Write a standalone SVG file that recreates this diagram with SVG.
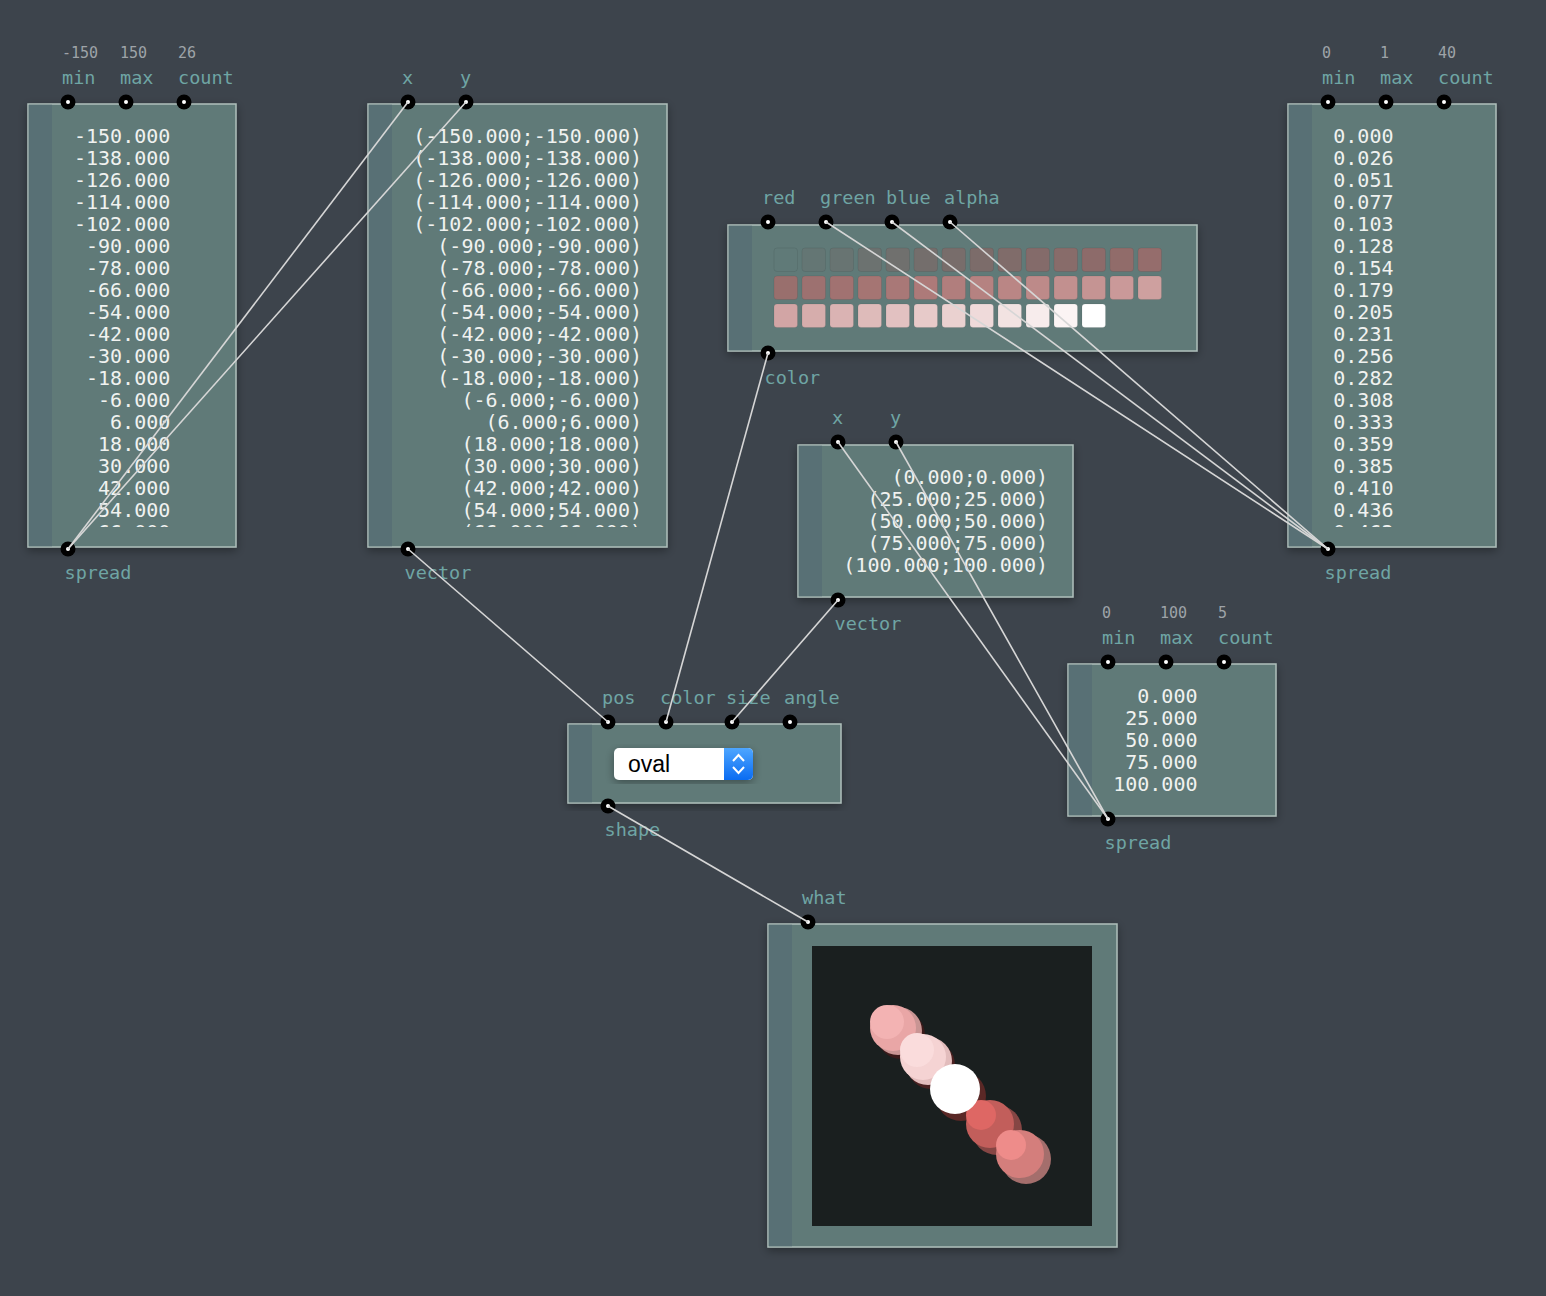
<svg xmlns="http://www.w3.org/2000/svg" width="1546" height="1296" viewBox="0 0 1546 1296">
<defs>
<style>
.body{fill:#617a78;stroke:#aebfba;stroke-width:1.5}
.strip{fill:#587075}
.pin{fill:#000}
.dot{fill:#fff}
.lbl{font-family:"DejaVu Sans Mono",monospace;font-size:18.5px;fill:#6fa5a4}
.num{font-family:"DejaVu Sans Mono",monospace;font-size:15px;fill:#9ea3a8}
.val{font-family:"DejaVu Sans Mono",monospace;font-size:20px;fill:#f0f2f0;text-anchor:end}
.wire{stroke:#d6d6d6;stroke-width:1.6;fill:none}
.sw{stroke:#000;stroke-opacity:0.07;stroke-width:1}
</style>
<filter id="sh" x="-10%" y="-10%" width="120%" height="120%">
<feDropShadow dx="0" dy="3" stdDeviation="5" flood-color="#000" flood-opacity="0.35"/>
</filter>
<linearGradient id="blue" x1="0" y1="0" x2="0" y2="1">
<stop offset="0" stop-color="#4ea6ff"/>
<stop offset="1" stop-color="#0a6cf2"/>
</linearGradient>
<clipPath id="c1"><rect x="52" y="106" width="183" height="421"/></clipPath>
<clipPath id="c2"><rect x="392" y="106" width="274" height="421"/></clipPath>
<clipPath id="c4"><rect x="1312" y="106" width="183" height="421"/></clipPath>
</defs>
<rect width="1546" height="1296" fill="#3d444c"/>

<g id="spread1">
<rect class="body" x="28" y="104" width="208" height="443" filter="url(#sh)"/>
<rect class="strip" x="28.75" y="104.75" width="23.25" height="441.5"/>
<text class="num" x="62" y="58">-150</text>
<text class="num" x="120" y="58">150</text>
<text class="num" x="178" y="58">26</text>
<text class="lbl" x="62" y="84">min</text>
<text class="lbl" x="120" y="84">max</text>
<text class="lbl" x="178" y="84">count</text>
<text class="lbl" x="64.5" y="579">spread</text>
<text class="val" clip-path="url(#c1)"><tspan x="170.3" y="143">-150.000</tspan><tspan x="170.3" y="165">-138.000</tspan><tspan x="170.3" y="187">-126.000</tspan><tspan x="170.3" y="209">-114.000</tspan><tspan x="170.3" y="231">-102.000</tspan><tspan x="170.3" y="253">-90.000</tspan><tspan x="170.3" y="275">-78.000</tspan><tspan x="170.3" y="297">-66.000</tspan><tspan x="170.3" y="319">-54.000</tspan><tspan x="170.3" y="341">-42.000</tspan><tspan x="170.3" y="363">-30.000</tspan><tspan x="170.3" y="385">-18.000</tspan><tspan x="170.3" y="407">-6.000</tspan><tspan x="170.3" y="429">6.000</tspan><tspan x="170.3" y="451">18.000</tspan><tspan x="170.3" y="473">30.000</tspan><tspan x="170.3" y="495">42.000</tspan><tspan x="170.3" y="517">54.000</tspan><tspan x="170.3" y="539">66.000</tspan></text>
<circle class="pin" cx="68" cy="102" r="7.5"/><circle class="dot" cx="68" cy="102" r="2"/>
<circle class="pin" cx="126" cy="102" r="7.5"/><circle class="dot" cx="126" cy="102" r="2"/>
<circle class="pin" cx="184" cy="102" r="7.5"/><circle class="dot" cx="184" cy="102" r="2"/>
<circle class="pin" cx="68" cy="549" r="7.5"/><circle class="dot" cx="68" cy="549" r="2"/>
</g>

<g id="vector1">
<rect class="body" x="368" y="104" width="299" height="443" filter="url(#sh)"/>
<rect class="strip" x="368.75" y="104.75" width="23.25" height="441.5"/>
<text class="lbl" x="402" y="84">x</text>
<text class="lbl" x="460" y="84">y</text>
<text class="lbl" x="404.5" y="579">vector</text>
<text class="val" clip-path="url(#c2)"><tspan x="642" y="143">(-150.000;-150.000)</tspan><tspan x="642" y="165">(-138.000;-138.000)</tspan><tspan x="642" y="187">(-126.000;-126.000)</tspan><tspan x="642" y="209">(-114.000;-114.000)</tspan><tspan x="642" y="231">(-102.000;-102.000)</tspan><tspan x="642" y="253">(-90.000;-90.000)</tspan><tspan x="642" y="275">(-78.000;-78.000)</tspan><tspan x="642" y="297">(-66.000;-66.000)</tspan><tspan x="642" y="319">(-54.000;-54.000)</tspan><tspan x="642" y="341">(-42.000;-42.000)</tspan><tspan x="642" y="363">(-30.000;-30.000)</tspan><tspan x="642" y="385">(-18.000;-18.000)</tspan><tspan x="642" y="407">(-6.000;-6.000)</tspan><tspan x="642" y="429">(6.000;6.000)</tspan><tspan x="642" y="451">(18.000;18.000)</tspan><tspan x="642" y="473">(30.000;30.000)</tspan><tspan x="642" y="495">(42.000;42.000)</tspan><tspan x="642" y="517">(54.000;54.000)</tspan><tspan x="642" y="539">(66.000;66.000)</tspan></text>
<circle class="pin" cx="408" cy="102" r="7.5"/><circle class="dot" cx="408" cy="102" r="2"/>
<circle class="pin" cx="466" cy="102" r="7.5"/><circle class="dot" cx="466" cy="102" r="2"/>
<circle class="pin" cx="408" cy="549" r="7.5"/><circle class="dot" cx="408" cy="549" r="2"/>
</g>

<g id="color">
<rect class="body" x="728" y="225" width="469" height="126" filter="url(#sh)"/>
<rect class="strip" x="728.75" y="225.75" width="23.25" height="124.5"/>
<text class="lbl" x="762" y="204">red</text>
<text class="lbl" x="820" y="204">green</text>
<text class="lbl" x="886" y="204">blue</text>
<text class="lbl" x="944" y="204">alpha</text>
<text class="lbl" x="764.5" y="384">color</text>
<g class="sw">
<rect x="774" y="248" width="23.5" height="23.5" rx="3" fill="rgb(255,0,0)" fill-opacity="0"/>
<rect x="802" y="248" width="23.5" height="23.5" rx="3" fill="rgb(255,7,7)" fill-opacity="0.026"/>
<rect x="830" y="248" width="23.5" height="23.5" rx="3" fill="rgb(255,13,13)" fill-opacity="0.051"/>
<rect x="858" y="248" width="23.5" height="23.5" rx="3" fill="rgb(255,20,20)" fill-opacity="0.077"/>
<rect x="886" y="248" width="23.5" height="23.5" rx="3" fill="rgb(255,26,26)" fill-opacity="0.103"/>
<rect x="914" y="248" width="23.5" height="23.5" rx="3" fill="rgb(255,33,33)" fill-opacity="0.128"/>
<rect x="942" y="248" width="23.5" height="23.5" rx="3" fill="rgb(255,39,39)" fill-opacity="0.154"/>
<rect x="970" y="248" width="23.5" height="23.5" rx="3" fill="rgb(255,46,46)" fill-opacity="0.179"/>
<rect x="998" y="248" width="23.5" height="23.5" rx="3" fill="rgb(255,52,52)" fill-opacity="0.205"/>
<rect x="1026" y="248" width="23.5" height="23.5" rx="3" fill="rgb(255,59,59)" fill-opacity="0.231"/>
<rect x="1054" y="248" width="23.5" height="23.5" rx="3" fill="rgb(255,65,65)" fill-opacity="0.256"/>
<rect x="1082" y="248" width="23.5" height="23.5" rx="3" fill="rgb(255,72,72)" fill-opacity="0.282"/>
<rect x="1110" y="248" width="23.5" height="23.5" rx="3" fill="rgb(255,78,78)" fill-opacity="0.308"/>
<rect x="1138" y="248" width="23.5" height="23.5" rx="3" fill="rgb(255,85,85)" fill-opacity="0.333"/>
<rect x="774" y="276" width="23.5" height="23.5" rx="3" fill="rgb(255,92,92)" fill-opacity="0.359"/>
<rect x="802" y="276" width="23.5" height="23.5" rx="3" fill="rgb(255,98,98)" fill-opacity="0.385"/>
<rect x="830" y="276" width="23.5" height="23.5" rx="3" fill="rgb(255,105,105)" fill-opacity="0.410"/>
<rect x="858" y="276" width="23.5" height="23.5" rx="3" fill="rgb(255,111,111)" fill-opacity="0.436"/>
<rect x="886" y="276" width="23.5" height="23.5" rx="3" fill="rgb(255,118,118)" fill-opacity="0.462"/>
<rect x="914" y="276" width="23.5" height="23.5" rx="3" fill="rgb(255,124,124)" fill-opacity="0.487"/>
<rect x="942" y="276" width="23.5" height="23.5" rx="3" fill="rgb(255,131,131)" fill-opacity="0.513"/>
<rect x="970" y="276" width="23.5" height="23.5" rx="3" fill="rgb(255,137,137)" fill-opacity="0.538"/>
<rect x="998" y="276" width="23.5" height="23.5" rx="3" fill="rgb(255,144,144)" fill-opacity="0.564"/>
<rect x="1026" y="276" width="23.5" height="23.5" rx="3" fill="rgb(255,150,150)" fill-opacity="0.590"/>
<rect x="1054" y="276" width="23.5" height="23.5" rx="3" fill="rgb(255,157,157)" fill-opacity="0.615"/>
<rect x="1082" y="276" width="23.5" height="23.5" rx="3" fill="rgb(255,163,163)" fill-opacity="0.641"/>
<rect x="1110" y="276" width="23.5" height="23.5" rx="3" fill="rgb(255,170,170)" fill-opacity="0.667"/>
<rect x="1138" y="276" width="23.5" height="23.5" rx="3" fill="rgb(255,177,177)" fill-opacity="0.692"/>
<rect x="774" y="304" width="23.5" height="23.5" rx="3" fill="rgb(255,183,183)" fill-opacity="0.718"/>
<rect x="802" y="304" width="23.5" height="23.5" rx="3" fill="rgb(255,190,190)" fill-opacity="0.744"/>
<rect x="830" y="304" width="23.5" height="23.5" rx="3" fill="rgb(255,196,196)" fill-opacity="0.769"/>
<rect x="858" y="304" width="23.5" height="23.5" rx="3" fill="rgb(255,203,203)" fill-opacity="0.795"/>
<rect x="886" y="304" width="23.5" height="23.5" rx="3" fill="rgb(255,209,209)" fill-opacity="0.821"/>
<rect x="914" y="304" width="23.5" height="23.5" rx="3" fill="rgb(255,216,216)" fill-opacity="0.846"/>
<rect x="942" y="304" width="23.5" height="23.5" rx="3" fill="rgb(255,222,222)" fill-opacity="0.872"/>
<rect x="970" y="304" width="23.5" height="23.5" rx="3" fill="rgb(255,229,229)" fill-opacity="0.897"/>
<rect x="998" y="304" width="23.5" height="23.5" rx="3" fill="rgb(255,235,235)" fill-opacity="0.923"/>
<rect x="1026" y="304" width="23.5" height="23.5" rx="3" fill="rgb(255,242,242)" fill-opacity="0.949"/>
<rect x="1054" y="304" width="23.5" height="23.5" rx="3" fill="rgb(255,248,248)" fill-opacity="0.974"/>
<rect x="1082" y="304" width="23.5" height="23.5" rx="3" fill="rgb(255,255,255)" fill-opacity="1"/>
</g>
<circle class="pin" cx="768" cy="222" r="7.5"/><circle class="dot" cx="768" cy="222" r="2"/>
<circle class="pin" cx="826" cy="222" r="7.5"/><circle class="dot" cx="826" cy="222" r="2"/>
<circle class="pin" cx="892" cy="222" r="7.5"/><circle class="dot" cx="892" cy="222" r="2"/>
<circle class="pin" cx="950" cy="222" r="7.5"/><circle class="dot" cx="950" cy="222" r="2"/>
<circle class="pin" cx="768" cy="353" r="7.5"/><circle class="dot" cx="768" cy="353" r="2"/>
</g>

<g id="spread2">
<rect class="body" x="1288" y="104" width="208" height="443" filter="url(#sh)"/>
<rect class="strip" x="1288.75" y="104.75" width="23.25" height="441.5"/>
<text class="num" x="1322" y="58">0</text>
<text class="num" x="1380" y="58">1</text>
<text class="num" x="1438" y="58">40</text>
<text class="lbl" x="1322" y="84">min</text>
<text class="lbl" x="1380" y="84">max</text>
<text class="lbl" x="1438" y="84">count</text>
<text class="lbl" x="1324.5" y="579">spread</text>
<text class="val" clip-path="url(#c4)"><tspan x="1393.5" y="143">0.000</tspan><tspan x="1393.5" y="165">0.026</tspan><tspan x="1393.5" y="187">0.051</tspan><tspan x="1393.5" y="209">0.077</tspan><tspan x="1393.5" y="231">0.103</tspan><tspan x="1393.5" y="253">0.128</tspan><tspan x="1393.5" y="275">0.154</tspan><tspan x="1393.5" y="297">0.179</tspan><tspan x="1393.5" y="319">0.205</tspan><tspan x="1393.5" y="341">0.231</tspan><tspan x="1393.5" y="363">0.256</tspan><tspan x="1393.5" y="385">0.282</tspan><tspan x="1393.5" y="407">0.308</tspan><tspan x="1393.5" y="429">0.333</tspan><tspan x="1393.5" y="451">0.359</tspan><tspan x="1393.5" y="473">0.385</tspan><tspan x="1393.5" y="495">0.410</tspan><tspan x="1393.5" y="517">0.436</tspan><tspan x="1393.5" y="539">0.462</tspan></text>
<circle class="pin" cx="1328" cy="102" r="7.5"/><circle class="dot" cx="1328" cy="102" r="2"/>
<circle class="pin" cx="1386" cy="102" r="7.5"/><circle class="dot" cx="1386" cy="102" r="2"/>
<circle class="pin" cx="1444" cy="102" r="7.5"/><circle class="dot" cx="1444" cy="102" r="2"/>
<circle class="pin" cx="1328" cy="549" r="7.5"/><circle class="dot" cx="1328" cy="549" r="2"/>
</g>

<g id="vector2">
<rect class="body" x="798" y="445" width="275" height="152" filter="url(#sh)"/>
<rect class="strip" x="798.75" y="445.75" width="23.25" height="150.5"/>
<text class="lbl" x="832" y="424">x</text>
<text class="lbl" x="890" y="424">y</text>
<text class="lbl" x="834.5" y="630">vector</text>
<text class="val"><tspan x="1048" y="484">(0.000;0.000)</tspan><tspan x="1048" y="506">(25.000;25.000)</tspan><tspan x="1048" y="528">(50.000;50.000)</tspan><tspan x="1048" y="550">(75.000;75.000)</tspan><tspan x="1048" y="572">(100.000;100.000)</tspan></text>
<circle class="pin" cx="838" cy="442" r="7.5"/><circle class="dot" cx="838" cy="442" r="2"/>
<circle class="pin" cx="896" cy="442" r="7.5"/><circle class="dot" cx="896" cy="442" r="2"/>
<circle class="pin" cx="838" cy="600" r="7.5"/><circle class="dot" cx="838" cy="600" r="2"/>
</g>

<g id="spread3">
<rect class="body" x="1068" y="664" width="208" height="152" filter="url(#sh)"/>
<rect class="strip" x="1068.75" y="664.75" width="23.25" height="150.5"/>
<text class="num" x="1102" y="618">0</text>
<text class="num" x="1160" y="618">100</text>
<text class="num" x="1218" y="618">5</text>
<text class="lbl" x="1102" y="644">min</text>
<text class="lbl" x="1160" y="644">max</text>
<text class="lbl" x="1218" y="644">count</text>
<text class="lbl" x="1104.5" y="849">spread</text>
<text class="val"><tspan x="1197.5" y="703">0.000</tspan><tspan x="1197.5" y="725">25.000</tspan><tspan x="1197.5" y="747">50.000</tspan><tspan x="1197.5" y="769">75.000</tspan><tspan x="1197.5" y="791">100.000</tspan></text>
<circle class="pin" cx="1108" cy="662" r="7.5"/><circle class="dot" cx="1108" cy="662" r="2"/>
<circle class="pin" cx="1166" cy="662" r="7.5"/><circle class="dot" cx="1166" cy="662" r="2"/>
<circle class="pin" cx="1224" cy="662" r="7.5"/><circle class="dot" cx="1224" cy="662" r="2"/>
<circle class="pin" cx="1108" cy="819" r="7.5"/><circle class="dot" cx="1108" cy="819" r="2"/>
</g>

<g id="shape">
<rect class="body" x="568" y="724" width="273" height="79" filter="url(#sh)"/>
<rect class="strip" x="568.75" y="724.75" width="23.25" height="77.5"/>
<text class="lbl" x="602" y="704">pos</text>
<text class="lbl" x="660" y="704">color</text>
<text class="lbl" x="726" y="704">size</text>
<text class="lbl" x="784" y="704">angle</text>
<text class="lbl" x="604.5" y="836">shape</text>
<rect x="614" y="748" width="139" height="32" rx="5" fill="#fff" filter="url(#sh)"/>
<path d="M724,748 H748 A5,5 0 0 1 753,753 V775 A5,5 0 0 1 748,780 H724 Z" fill="url(#blue)"/>
<path d="M733,761 L738.5,755 L744,761 M733,767 L738.5,773 L744,767" stroke="#fff" stroke-width="2" fill="none"/>
<text x="628" y="772" font-family="Liberation Sans, Arial, sans-serif" font-size="23" fill="#000">oval</text>
<circle class="pin" cx="608" cy="722" r="7.5"/><circle class="dot" cx="608" cy="722" r="2"/>
<circle class="pin" cx="666" cy="722" r="7.5"/><circle class="dot" cx="666" cy="722" r="2"/>
<circle class="pin" cx="732" cy="722" r="7.5"/><circle class="dot" cx="732" cy="722" r="2"/>
<circle class="pin" cx="790" cy="722" r="7.5"/><circle class="dot" cx="790" cy="722" r="2"/>
<circle class="pin" cx="608" cy="806" r="7.5"/><circle class="dot" cx="608" cy="806" r="2"/>
</g>

<g id="display">
<rect class="body" x="768" y="924" width="349" height="323" filter="url(#sh)"/>
<rect class="strip" x="768.75" y="924.75" width="23.25" height="321.5"/>
<text class="lbl" x="802" y="904">what</text>
<rect x="812" y="946" width="280" height="280" fill="#1a1f1f"/>
<circle cx="901" cy="1035" r="24" fill="#3b1a1a"/>
<circle cx="898" cy="1031" r="24" fill="#c99594"/>
<circle cx="893" cy="1028" r="23" fill="#e9a6a6"/>
<circle cx="887" cy="1022" r="17" fill="#f3b3b3"/>
<circle cx="931" cy="1065" r="24" fill="#4a2020"/>
<circle cx="928" cy="1061" r="24" fill="#e2bcbc"/>
<circle cx="923" cy="1057" r="23" fill="#f5d3d3"/>
<circle cx="917" cy="1050" r="17" fill="#fadcdc"/>
<circle cx="961" cy="1096" r="25" fill="#5a2826"/>
<circle cx="997" cy="1130" r="25" fill="#864644"/>
<circle cx="990" cy="1124" r="24" fill="#c25e5b"/>
<circle cx="981" cy="1115" r="15" fill="#de6764"/>
<circle cx="955" cy="1089" r="25" fill="#ffffff"/>
<circle cx="1026" cy="1159" r="25" fill="#a46e6c"/>
<circle cx="1020" cy="1154" r="24" fill="#d47e7c"/>
<circle cx="1011" cy="1145" r="15" fill="#ee8c8a"/>
<circle class="pin" cx="808" cy="922" r="7.5"/><circle class="dot" cx="808" cy="922" r="2"/>
</g>

<g id="connectors">
<line class="wire" x1="68" y1="549" x2="408" y2="102"/>
<line class="wire" x1="68" y1="549" x2="466" y2="102"/>
<line class="wire" x1="408" y1="549" x2="608" y2="722"/>
<line class="wire" x1="768" y1="353" x2="666" y2="722"/>
<line class="wire" x1="838" y1="600" x2="732" y2="722"/>
<line class="wire" x1="838" y1="442" x2="1108" y2="819"/>
<line class="wire" x1="896" y1="442" x2="1108" y2="819"/>
<line class="wire" x1="1328" y1="549" x2="826" y2="222"/>
<line class="wire" x1="1328" y1="549" x2="892" y2="222"/>
<line class="wire" x1="1328" y1="549" x2="950" y2="222"/>
<line class="wire" x1="608" y1="806" x2="808" y2="922"/>
</g>
</svg>
